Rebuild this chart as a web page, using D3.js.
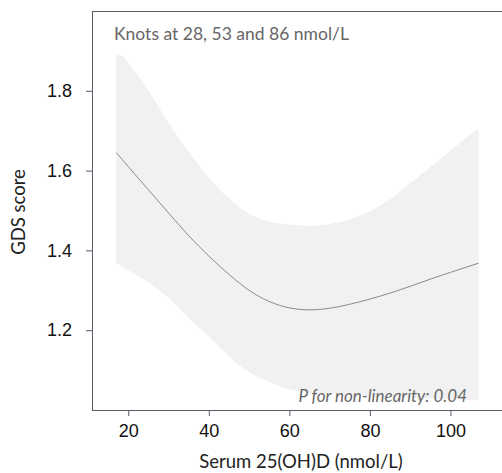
<!DOCTYPE html>
<html>
<head>
<meta charset="utf-8">
<script src="https://cdn.jsdelivr.net/npm/d3@7"></script>
<style>
  body { margin: 0; background: #fff; }
  svg { display: block; font-family: Lato, 'Open Sans', sans-serif; }
  .ax path, .ax line { stroke: #5a5a66; }
  .ax text { fill: #111; font-size: 18px; }
</style>
</head>
<body>
<svg id="chart" width="502" height="473"></svg>
<script>
// serum 25(OH)D values (nmol/L)
var vitD = [17, 18.5, 20, 25, 30, 35, 40, 45, 50, 55, 60, 65, 70, 75, 80, 85, 90, 95, 100, 107]
// fitted GDS score and its confidence band
var fit = [1.645, 1.628, 1.61, 1.552, 1.494, 1.437, 1.386, 1.34, 1.30, 1.272, 1.256, 1.251, 1.255, 1.265, 1.278, 1.293, 1.31, 1.328, 1.345, 1.368]
var upper = [1.89, 1.888, 1.87, 1.80, 1.72, 1.647, 1.583, 1.53, 1.492, 1.472, 1.465, 1.462, 1.466, 1.478, 1.498, 1.528, 1.568, 1.609, 1.65, 1.706]
var lower = [1.368, 1.36, 1.35, 1.32, 1.28, 1.23, 1.185, 1.135, 1.095, 1.07, 1.052, 1.044, 1.04, 1.037, 1.035, 1.033, 1.031, 1.029, 1.027, 1.024]

var xTicks = [20, 40, 60, 80, 100]
var yTicks = [1.2, 1.4, 1.6, 1.8]

var width = 502
var height = 473
var margin = {top: 11, right: 0, bottom: 63, left: 92}

var svg = d3.select('#chart')

var innerw = width - margin.left - margin.right
var innerh = height - margin.top - margin.bottom

var mapx = d3.scaleLinear()
    .domain([11, 112.8])
    .range([0, innerw])

var mapy = d3.scaleLinear()
    .domain([1.0, 2.0])
    .range([innerh, 0])

var rows = vitD.map((v, i) => ({x: v, fit: fit[i], lo: lower[i], hi: upper[i]}))

var g = svg.append('g')
    .attr('transform', `translate(${margin.left},${margin.top})`)

// confidence band
var band = d3.area()
    .x(d => mapx(d.x))
    .y0(d => mapy(d.lo))
    .y1(d => mapy(d.hi))
    .curve(d3.curveMonotoneX)

g.append('path')
    .datum(rows)
    .attr('d', band)
    .style('fill', '#f1f1f1')

// fitted curve
var line = d3.line()
    .x(d => mapx(d.x))
    .y(d => mapy(d.fit))
    .curve(d3.curveMonotoneX)

g.append('path')
    .datum(rows)
    .attr('d', line)
    .style('fill', 'none')
    .style('stroke', '#8a8a8a')
    .style('stroke-width', 1)

// top border of the box
g.append('line')
    .attr('x1', 0).attr('x2', innerw)
    .attr('y1', 0.5).attr('y2', 0.5)
    .style('stroke', '#5a5a66')

// axes
var xAxis = d3.axisBottom(mapx).tickValues(xTicks).tickSize(6).tickPadding(8)
g.append('g').classed('ax x', true)
    .attr('transform', `translate(0,${innerh})`)
    .call(xAxis)
    .call(s => s.select('.domain').attr('d', `M0,0.5H${innerw}`))

var yAxis = d3.axisLeft(mapy).tickValues(yTicks).tickFormat(d3.format('.1f')).tickSize(6).tickPadding(14)
g.append('g').classed('ax y', true)
    .call(yAxis)
    .call(s => s.select('.domain').attr('d', `M0.5,0V${innerh}`))

// annotations
g.append('text')
    .attr('x', 22).attr('y', 29)
    .style('font-size', '17.5px')
    .style('fill', '#666')
    .text('Knots at 28, 53 and 86 nmol/L')

g.append('text')
    .attr('x', 375).attr('y', 391)
    .attr('text-anchor', 'end')
    .style('font-size', '17px')
    .style('font-style', 'italic')
    .style('fill', '#666')
    .text('P for non-linearity: 0.04')

svg.append('text')
    .attr('x', 301).attr('y', 468)
    .attr('text-anchor', 'middle')
    .style('font-size', '18.5px')
    .style('fill', '#222')
    .text('Serum 25(OH)D (nmol/L)')

svg.append('text')
    .attr('transform', 'translate(25,212) rotate(-90)')
    .attr('text-anchor', 'middle')
    .style('font-size', '18.5px')
    .style('fill', '#222')
    .text('GDS score')
</script>
</body>
</html>
